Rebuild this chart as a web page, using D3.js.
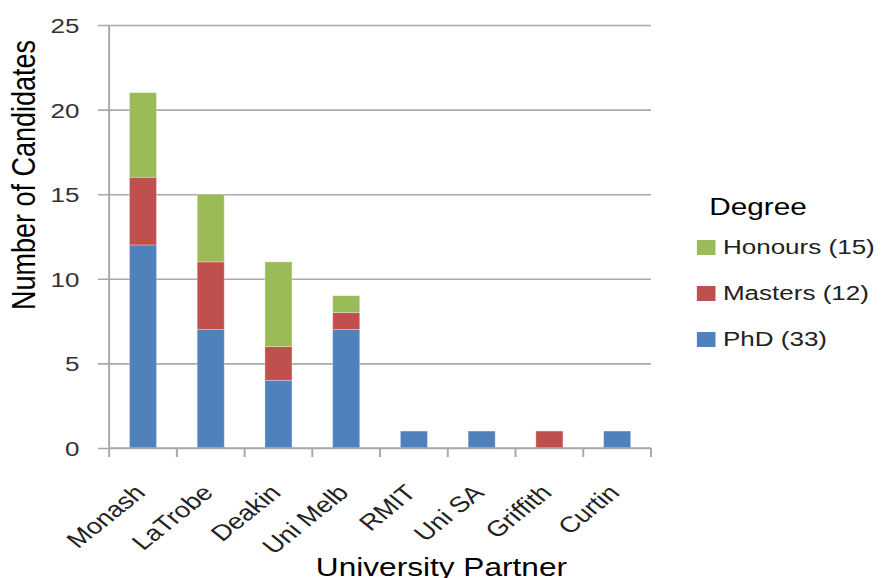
<!DOCTYPE html>
<html>
<head>
<meta charset="utf-8">
<script src="https://cdn.jsdelivr.net/npm/d3@7"></script>
<style>
  body { margin: 0; background: #fff; }
  svg { display: block; }
  text { font-family: "Liberation Sans", Arial, sans-serif; }
</style>
</head>
<body>
<svg id="chart"></svg>
<script>
// data
const universities = ['Monash', 'LaTrobe', 'Deakin', 'Uni Melb', 'RMIT', 'Uni SA', 'Griffith', 'Curtin'];
const phd      = [12, 7, 4, 7, 1, 1, 0, 1];
const masters  = [4, 4, 2, 1, 0, 0, 1, 0];
const honours  = [5, 4, 5, 1, 0, 0, 0, 0];
const degrees  = ['PhD', 'Masters', 'Honours'];
const yTicks   = [0, 5, 10, 15, 20, 25];

const colors = { PhD: '#4f81bd', Masters: '#c0504d', Honours: '#9bbb59' };

// the original picture is stretched sideways, so draw in a narrower box and stretch it
const stretch = 1.24;
const width = 882, height = 578;
const vw = width / stretch;

const svg = d3.select('#chart')
    .attr('width', width)
    .attr('height', height)
    .attr('viewBox', `0 0 ${vw} ${height}`)
    .attr('preserveAspectRatio', 'none');

const plot = { left: 88, right: 525, top: 25, bottom: 448 };

const table = universities.map((u, i) => ({
    uni: u, PhD: phd[i], Masters: masters[i], Honours: honours[i]
}));
const stacked = d3.stack().keys(degrees)(table);

const xScale = d3.scaleBand()
    .domain(universities)
    .range([plot.left, plot.right])
    .paddingInner(0.6)
    .paddingOuter(0.3);

const yScale = d3.scaleLinear()
    .domain([0, 25])
    .range([plot.bottom, plot.top]);

const gridColor = '#a9a9a9';

// y axis with gridlines
const yAxis = d3.axisLeft(yScale)
    .tickValues(yTicks)
    .tickSize(0)
    .tickPadding(24);
const gY = svg.append('g')
    .attr('transform', `translate(${plot.left},0)`)
    .call(yAxis);
gY.select('.domain').remove();
gY.selectAll('.tick line')
    .attr('x1', -9)
    .attr('x2', plot.right - plot.left)
    .attr('stroke', gridColor)
    .attr('stroke-width', 1.6);
gY.selectAll('.tick text')
    .attr('fill', '#333')
    .style('font-size', '21px')
    .attr('dy', '0.36em');

// bars
svg.append('g').selectAll('g')
    .data(stacked)
    .enter()
    .append('g')
    .attr('fill', d => colors[d.key])
    .selectAll('rect')
    .data(d => d)
    .enter()
    .append('rect')
    .attr('x', d => xScale(d.data.uni))
    .attr('width', xScale.bandwidth())
    .attr('y', d => yScale(d[1]))
    .attr('height', d => yScale(d[0]) - yScale(d[1]))
    .attr('stroke', '#ffffff')
    .attr('stroke-opacity', 0.35)
    .attr('stroke-width', 0.8);

// vertical axis line
svg.append('line')
    .attr('x1', plot.left).attr('x2', plot.left)
    .attr('y1', plot.top).attr('y2', plot.bottom)
    .attr('stroke', gridColor)
    .attr('stroke-width', 1.6);

// x axis
const step = xScale.step();
const xAxis = d3.axisBottom(xScale).tickSize(0).tickPadding(0);
const gX = svg.append('g')
    .attr('transform', `translate(0,${plot.bottom})`)
    .call(xAxis);
gX.select('.domain')
    .attr('d', `M${plot.left},0H${plot.right}`)
    .attr('stroke', gridColor)
    .attr('stroke-width', 1.6);
// category boundary ticks
gX.selectAll('.bound')
    .data(d3.range(universities.length + 1))
    .enter()
    .append('line')
    .attr('x1', i => plot.left + i * step)
    .attr('x2', i => plot.left + i * step)
    .attr('y1', 0).attr('y2', 9)
    .attr('stroke', gridColor)
    .attr('stroke-width', 1.6);
gX.selectAll('.tick text')
    .attr('fill', '#222')
    .style('font-size', '22px')
    .style('text-anchor', 'end')
    .attr('y', 0)
    .attr('dy', 0)
    .attr('transform', `translate(3,46) rotate(-45)`);

// axis titles
svg.append('text')
    .attr('transform', `translate(28,175) rotate(-90)`)
    .attr('text-anchor', 'middle')
    .style('font-size', '27px')
    .attr('fill', '#000')
    .text('Number of Candidates');

svg.append('text')
    .attr('x', 356)
    .attr('y', 576)
    .attr('text-anchor', 'middle')
    .style('font-size', '25.5px')
    .attr('fill', '#000')
    .text('University Partner');

// legend
const legend = svg.append('g').attr('transform', 'translate(562,0)');
legend.append('text')
    .attr('x', 10)
    .attr('y', 215)
    .style('font-size', '24px')
    .attr('fill', '#000')
    .text('Degree');

const legendItems = [
    { key: 'Honours', total: d3.sum(honours) },
    { key: 'Masters', total: d3.sum(masters) },
    { key: 'PhD', total: d3.sum(phd) }
];
const item = legend.selectAll('.item')
    .data(legendItems)
    .enter()
    .append('g')
    .attr('transform', (d, i) => `translate(0,${240 + i * 46})`);
item.append('rect')
    .attr('width', 15)
    .attr('height', 15)
    .attr('fill', d => colors[d.key]);
item.append('text')
    .attr('x', 21)
    .attr('y', 14)
    .style('font-size', '21px')
    .attr('fill', '#222')
    .text(d => `${d.key} (${d.total})`);
</script>
</body>
</html>
